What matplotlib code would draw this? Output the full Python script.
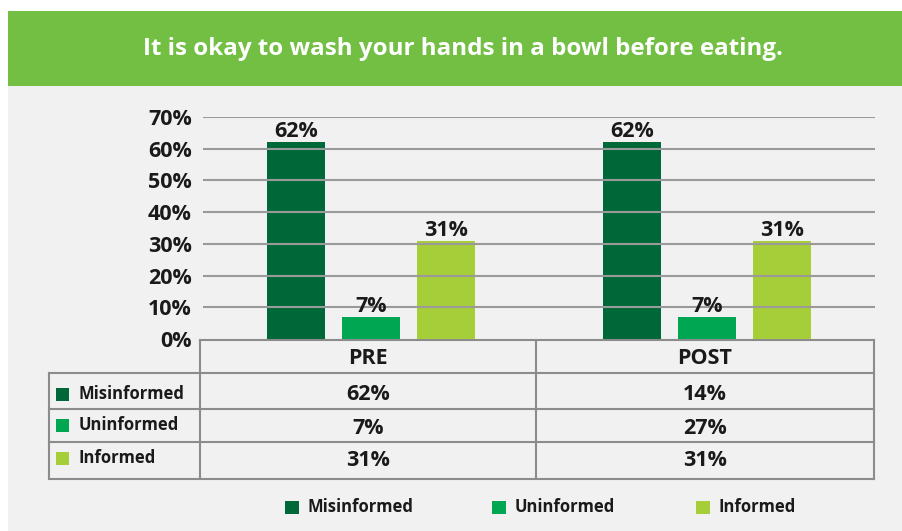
import matplotlib
matplotlib.use("Agg")
import matplotlib.pyplot as plt
from matplotlib.patches import Rectangle
import numpy as np

plt.rcParams['font.family'] = ['Open Sans', 'DejaVu Sans']

title = "It is okay to wash your hands in a bowl before eating."
groups = ["PRE", "POST"]
series = ["Misinformed", "Uninformed", "Informed"]
colors = ["#006838", "#00a651", "#a6ce39"]
bar_values = [[62, 7, 31], [62, 7, 31]]   # per group: misinformed, uninformed, informed
table_values = [[62, 14], [7, 27], [31, 31]]  # per series: PRE, POST
yticks = [0, 10, 20, 30, 40, 50, 60, 70]

W, H = 903, 531
FS = 15.5
ink = "#1a1a1a"
fig = plt.figure(figsize=(W / 100, H / 100), dpi=100)
fig.patch.set_facecolor("white")

# background layer in pixel coordinates
bg = fig.add_axes([0, 0, 1, 1], zorder=0)
bg.set_xlim(0, W)
bg.set_ylim(H, 0)
bg.axis("off")
bg.add_patch(Rectangle((8, 11), W - 8, 75, color="#72bf44", lw=0))
bg.add_patch(Rectangle((8, 86), W - 8, H - 86, color="#f1f1f1", lw=0))
bg.text(463, 49, title, color="white", fontsize=17.4, fontweight="bold",
        ha="center", va="center")

# bars
ax = fig.add_axes([203 / W, 1 - 339 / H, 672 / W, 222 / H], zorder=1)
ax.set_facecolor("none")
x = np.arange(len(groups))
width = 0.173
offsets = [-0.222, 0, 0.222]
for i, name in enumerate(series):
    vals = [g[i] for g in bar_values]
    bars = ax.bar(x + offsets[i], vals, width, color=colors[i], zorder=1)
    for b, v in zip(bars, vals):
        ax.annotate(f"{v}%", (b.get_x() + b.get_width() / 2, v),
                    xytext=(0, 0), textcoords="offset points",
                    ha="center", va="bottom", fontsize=FS, fontweight="bold",
                    color=ink)
ax.set_xlim(-0.5, 1.5)
ax.set_ylim(0, 70)
ax.set_yticks(yticks)
ax.set_yticklabels([f"{t}%" for t in yticks], fontsize=FS, fontweight="bold",
                   color=ink)
ax.set_xticks([])
ax.tick_params(axis="y", length=0, pad=8)
for t in yticks[1:]:
    ax.axhline(t, color="#9a9a9a", lw=1.5, zorder=2)
for s in ax.spines.values():
    s.set_visible(False)

# data table under the chart
lc = "#8c8c8c"
lw = 1.5
col_x = [49, 200, 536, 874]
row_y = [340, 373, 409, 442, 479]
bg.plot([col_x[1], col_x[3]], [row_y[0], row_y[0]], color=lc, lw=lw)
for y in row_y[1:]:
    bg.plot([col_x[0], col_x[3]], [y, y], color=lc, lw=lw)
bg.plot([col_x[0], col_x[0]], [row_y[1], row_y[-1]], color=lc, lw=lw)
for cx in col_x[1:]:
    bg.plot([cx, cx], [row_y[0], row_y[-1]], color=lc, lw=lw)

col_centers = [368, 705]
for g, cx in zip(groups, col_centers):
    bg.text(cx, 358, g, ha="center", va="center", fontsize=FS, fontweight="bold",
            color=ink)

value_y = [394, 428, 461]
label_y = [394, 425, 458]
for i, name in enumerate(series):
    bg.add_patch(Rectangle((56, label_y[i] - 6), 13, 13, color=colors[i], lw=0))
    bg.text(79, label_y[i], name, ha="left", va="center", fontsize=12,
            fontweight="bold", color=ink)
    for j, cx in enumerate(col_centers):
        bg.text(cx, value_y[i], f"{table_values[i][j]}%", ha="center", va="center",
                fontsize=FS, fontweight="bold", color=ink)

# legend at the bottom
leg_x = [285, 492, 696]
for i, name in enumerate(series):
    bg.add_patch(Rectangle((leg_x[i], 501), 14, 13, color=colors[i], lw=0))
    bg.text(leg_x[i] + 23, 507, name, ha="left", va="center", fontsize=12,
            fontweight="bold", color=ink)

fig.savefig("out.png", dpi=100)
